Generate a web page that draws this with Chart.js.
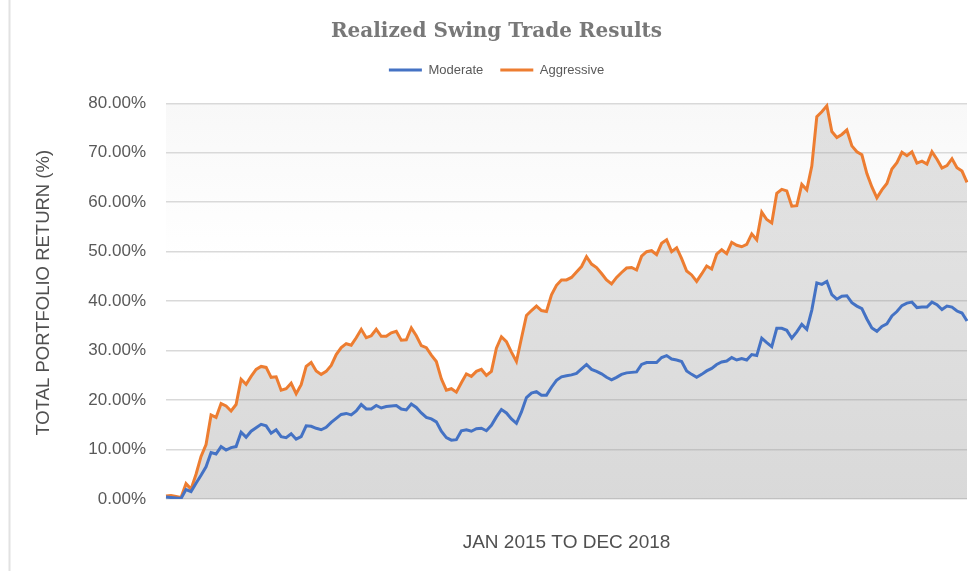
<!DOCTYPE html>
<html lang="en">
<head>
  <meta charset="UTF-8">
  <title>Realized Swing Trade Results</title>
  <!-- Chart.js -->
  <script src="https://cdn.jsdelivr.net/npm/chart.js"></script>
  <style>
    html, body { margin: 0; padding: 0; background: #fff; }
    #wrap { width: 972px; height: 571px; }
  </style>
</head>
<body>
  <div id="wrap">
    <canvas id="swingChart" width="972" height="571"></canvas>
  </div>

  <script>
    // total portfolio return in % (Jan 2015 - Dec 2018)
    const moderate = [
      0.4, 0.3, 0.2, 0.1, 1.9, 1.5, 3.2, 4.8, 6.5, 9.4,
      9.1, 10.6, 9.9, 10.4, 10.6, 13.5, 12.5, 13.7, 14.4, 15.1,
      14.8, 13.3, 14.0, 12.6, 12.4, 13.2, 12.1, 12.6, 14.8, 14.7,
      14.3, 14.0, 14.5, 15.5, 16.3, 17.1, 17.3, 17.0, 17.8, 19.1,
      18.2, 18.2, 18.9, 18.4, 18.7, 18.8, 18.9, 18.2, 18.0, 19.2,
      18.5, 17.4, 16.5, 16.2, 15.6, 13.7, 12.4, 11.9, 12.0, 13.8,
      14.0, 13.7, 14.2, 14.3, 13.8, 14.9, 16.6, 18.1, 17.4, 16.2,
      15.3, 17.6, 20.5, 21.4, 21.7, 21.0, 21.0, 22.6, 24.0, 24.7,
      24.9, 25.1, 25.4, 26.3, 27.2, 26.2, 25.8, 25.3, 24.6, 24.1,
      24.6, 25.2, 25.5, 25.6, 25.7, 27.2, 27.6, 27.6, 27.6, 28.6,
      29.0, 28.3, 28.1, 27.8, 25.9, 25.2, 24.6, 25.2, 25.9, 26.4,
      27.2, 27.7, 27.9, 28.6, 28.1, 28.4, 28.1, 29.2, 29.0, 32.5,
      31.6, 30.8, 34.5, 34.5, 34.1, 32.5, 33.8, 35.3, 34.3, 38.2,
      43.7, 43.4, 44.0, 41.3, 40.4, 41.0, 41.1, 39.7, 39.0, 38.5,
      36.4, 34.6, 33.9, 34.9, 35.4, 37.0, 37.9, 39.1, 39.6, 39.8,
      38.7, 38.8, 38.8, 39.8, 39.3, 38.3, 39.0, 38.8, 38.0, 37.6,
      36.0
    ];
    const aggressive = [
      0.6, 0.7, 0.5, 0.3, 3.1, 2.0, 5.0, 8.6, 11.0, 17.0,
      16.5, 19.3, 18.8, 17.8, 19.1, 24.2, 23.2, 24.8, 26.2, 26.8,
      26.6, 24.6, 24.7, 22.0, 22.3, 23.4, 21.3, 23.1, 26.8, 27.6,
      25.9, 25.2, 25.8, 27.0, 29.2, 30.6, 31.4, 31.1, 32.6, 34.3,
      32.6, 33.0, 34.3, 32.9, 32.9, 33.6, 33.9, 32.1, 32.2, 34.6,
      33.0, 31.0, 30.6, 29.1, 27.8, 24.3, 22.0, 22.3, 21.6, 23.5,
      25.3, 24.8, 25.8, 26.2, 25.0, 25.8, 30.5, 32.8, 31.8, 29.7,
      27.8, 32.5, 37.1, 38.1, 39.0, 38.1, 37.9, 41.3, 43.2, 44.3,
      44.3, 44.8, 45.9, 47.0, 49.0, 47.5, 46.8, 45.6, 44.3, 43.5,
      44.8, 45.8, 46.7, 46.8, 46.3, 49.1, 50.0, 50.2, 49.4, 51.7,
      52.4, 50.0, 50.8, 48.6, 46.1, 45.3, 44.0, 45.5, 47.1, 46.5,
      49.5, 50.4, 49.6, 51.9, 51.3, 51.0, 51.5, 53.6, 52.4, 58.0,
      56.5, 55.8, 61.8, 62.6, 62.3, 59.2, 59.3, 63.6, 62.5, 67.3,
      77.3, 78.3, 79.5, 74.3, 73.1, 73.7, 74.6, 71.4, 70.2, 69.6,
      65.8, 63.1, 60.9, 62.5, 63.8, 66.7, 68.0, 70.1, 69.4, 70.2,
      67.9, 68.3, 67.7, 70.2, 68.7, 66.9, 67.4, 68.8, 67.0, 66.3,
      64.0
    ];
    // one category per sampled period, not shown on the axis
    const periods = moderate.map((_, i) => 'P' + (i + 1));
    const yTicks = [0, 10, 20, 30, 40, 50, 60, 70, 80];

    // white page, faint plot shading and the thin frame on the left
    const backdrop = {
      id: 'backdrop',
      beforeDraw(chart) {
        const { ctx, chartArea, scales } = chart;
        ctx.save();
        ctx.fillStyle = '#ffffff';
        ctx.fillRect(0, 0, chart.width, chart.height);
        const top = scales.y.getPixelForValue(yTicks[yTicks.length - 1]);
        const g = ctx.createLinearGradient(0, top, 0, chartArea.bottom);
        g.addColorStop(0, '#f8f8f8');
        g.addColorStop(0.4, '#ffffff');
        ctx.fillStyle = g;
        ctx.fillRect(chartArea.left, top, chartArea.right - chartArea.left, chartArea.bottom - top);
        ctx.strokeStyle = '#e2e2e2';
        ctx.lineWidth = 2;
        ctx.beginPath();
        ctx.moveTo(9.5, 0);
        ctx.lineTo(9.5, chart.height);
        ctx.stroke();
        ctx.restore();
      }
    };

    const areaFill = (context) => {
      const { chart } = context;
      if (!chart.chartArea) return 'rgba(150,150,150,0.32)';
      const g = chart.ctx.createLinearGradient(0, chart.chartArea.top, 0, chart.chartArea.bottom);
      g.addColorStop(0, 'rgba(150,150,150,0.24)');
      g.addColorStop(1, 'rgba(150,150,150,0.36)');
      return g;
    };

    const ctx = document.getElementById('swingChart').getContext('2d');
    new Chart(ctx, {
      type: 'line',
      data: {
        labels: periods,
        datasets: [
          {
            label: 'Moderate',
            data: moderate,
            borderColor: '#4472c4',
            backgroundColor: '#4472c4',
            borderWidth: 3,
            pointRadius: 0,
            tension: 0,
            fill: false
          },
          {
            label: 'Aggressive',
            data: aggressive,
            borderColor: '#ed7d31',
            backgroundColor: areaFill,
            borderWidth: 3,
            pointRadius: 0,
            tension: 0,
            fill: 'origin'
          }
        ]
      },
      options: {
        responsive: false,
        animation: false,
        devicePixelRatio: 1,
        layout: { padding: { left: 26, right: 5, top: 0, bottom: 0 } },
        plugins: {
          filler: { drawTime: 'beforeDatasetsDraw' },
          tooltip: { enabled: false },
          title: {
            display: true,
            text: 'Realized Swing Trade Results',
            color: '#787878',
            font: { family: 'DejaVu Serif', size: 20, weight: 'bold' },
            padding: { top: 20, bottom: 2.5 }
          },
          legend: {
            display: true,
            labels: {
              color: '#595959',
              font: { family: 'Liberation Sans', size: 13 },
              boxWidth: 33,
              boxHeight: 3,
              padding: 17,
              generateLabels: (chart) =>
                Chart.defaults.plugins.legend.labels.generateLabels(chart)
                  .map(item => ({ ...item, fillStyle: item.strokeStyle, lineWidth: 0 }))
            }
          }
        },
        scales: {
          x: {
            grid: { display: false },
            border: { display: false },
            ticks: { display: false },
            title: {
              display: true,
              text: 'JAN 2015 TO DEC 2018',
              color: '#505050',
              font: { family: 'Liberation Sans', size: 19 },
              padding: { top: 0, bottom: 16.6 }
            },
            afterFit: (scale) => { scale.height = 72; }
          },
          y: {
            min: 0,
            max: 83.4,
            grid: { color: '#d9d9d9', lineWidth: 1.5, drawTicks: false },
            border: { display: false },
            ticks: {
              stepSize: 10,
              padding: 20,
              color: '#595959',
              font: { family: 'Liberation Sans', size: 17 },
              callback: (v) => v.toFixed(2) + '%'
            },
            afterBuildTicks: (scale) => {
              scale.ticks = yTicks.map(v => ({ value: v }));
            },
            title: {
              display: true,
              text: 'TOTAL PORTFOLIO RETURN (%)',
              color: '#505050',
              font: { family: 'Liberation Sans', size: 18.5 },
              padding: { top: 7, bottom: 0 }
            },
            afterFit: (scale) => { scale.width = 140; }
          }
        }
      },
      plugins: [backdrop]
    });
  </script>
</body>
</html>
